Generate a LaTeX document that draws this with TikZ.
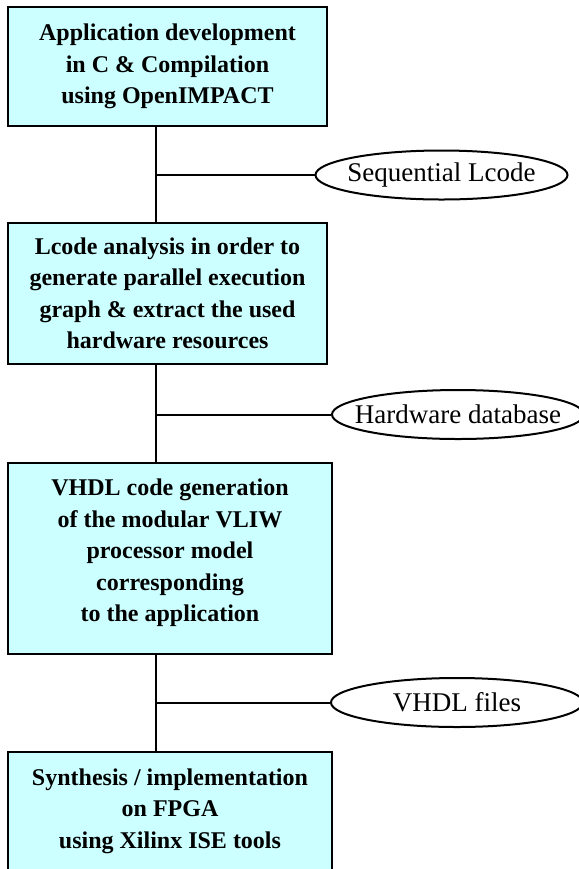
\documentclass[tikz,border=0pt]{standalone}
\usepackage{fontspec}
\setmainfont{Liberation Serif}
\usetikzlibrary{shapes.geometric}

\definecolor{stagefill}{RGB}{204,255,255}

\begin{document}
\begin{tikzpicture}[x=.5pt, y=-.5pt, line width=1pt,
		stage/.style={draw, fill=stagefill, rectangle, align=center, inner sep=0pt,
		              font=\fontsize{12}{15.75}\selectfont\bfseries},
		data/.style={draw, ellipse, inner xsep=-10pt, inner ysep=0pt, minimum width=126pt, minimum height=24.5pt,
		             font=\fontsize{13.5}{15}\selectfont}]
		\useasboundingbox (0,0) rectangle (579,869);
		\clip (0,0) rectangle (579,869);
		\node[stage, minimum width=159.5pt, minimum height=59.5pt] (dev)      at (167.5, 66.5){Application development\\in C \& Compilation\\using OpenIMPACT};
		\node[stage, minimum width=159.5pt, minimum height=70.5pt] (analysis) at (167.5,293.5){Lcode analysis in order to\\generate parallel execution\\graph \& extract the used\\hardware resources};
		\node[stage, minimum width=162pt,   minimum height=95.5pt, text depth=8pt] (vhdlgen) at (170, 558.5){VHDL code generation\\of the modular VLIW\\processor model\\corresponding\\to the application};
		\node[stage, minimum width=162pt,   minimum height=59.5pt] (synth)    at (170,  811){Synthesis / implementation\\on FPGA\\using Xilinx ISE tools};
		\node[data] (lcode)     at (441.5, 175){Sequential Lcode};
		\node[data] (hwdb)      at (458,   414.5){Hardware database};
		\node[data] (vhdlfiles) at (457,   702.5){VHDL files};
		\coordinate (bus) at (156, 0); % all stages hang on this vertical
		\draw (bus |- dev.south)      -- (bus |- analysis.north)
		      (bus |- analysis.south) -- (bus |- vhdlgen.north)
		      (bus |- vhdlgen.south)  -- (bus |- synth.north)
		      (bus |- lcode.west)     -- (lcode.west)
		      (bus |- hwdb.west)      -- (hwdb.west)
		      (bus |- vhdlfiles.west) -- (vhdlfiles.west);
	\end{tikzpicture}
\end{document}
